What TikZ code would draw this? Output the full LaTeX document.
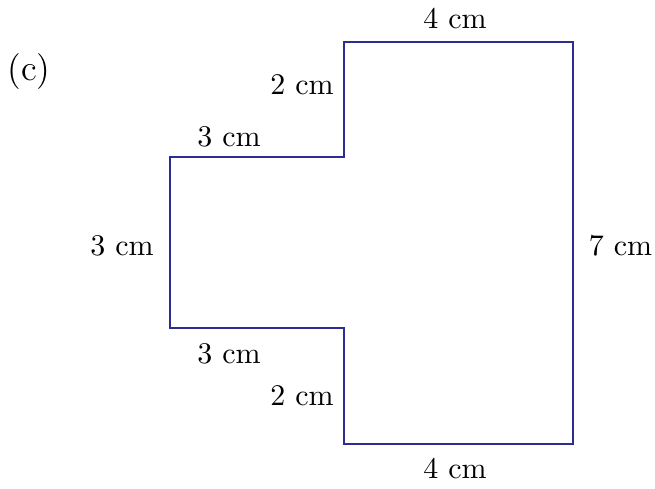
\documentclass[tikz,border=0pt]{standalone}
\definecolor{edgeblue}{RGB}{45,45,145}
\begin{document}
\begin{tikzpicture}[x=1pt,y=-1pt,
  lbl/.style={inner sep=0pt,anchor=base,scale=3,font=\normalsize},
  shapeline/.style={draw=edgeblue,line width=1.5pt,line join=miter}]
\useasboundingbox (0,0) rectangle (655,488);
\draw[shapeline] (344,42) -- (573,42) -- (573,444) -- (344,444) -- (344,328) -- (170,328) -- (170,157) -- (344,157) -- cycle;
\node[lbl,font=\large] (c) at (29,80.5) {(c)};
\node[lbl] (t4) at (455,28.5) {4 cm};
\node[lbl] (t2) at (302,94) {2 cm};
\node[lbl] (t3) at (229,146) {3 cm};
\node[lbl] (l3) at (122,255) {3 cm};
\node[lbl] (r7) at (620.5,255) {7 cm};
\node[lbl] (b3) at (229,363) {3 cm};
\node[lbl] (b2) at (302,405) {2 cm};
\node[lbl] (b4) at (455,478) {4 cm};
\end{tikzpicture}
\end{document}
